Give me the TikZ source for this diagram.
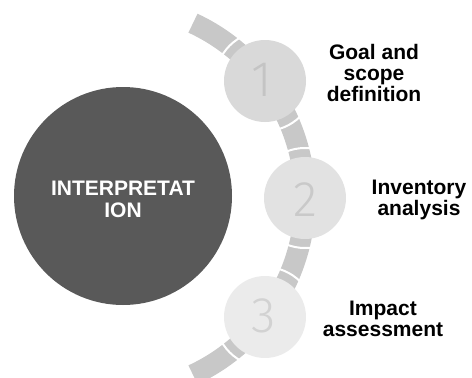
\documentclass[tikz,border=0pt]{standalone}
\usepackage{fontspec}
\setmainfont{Liberation Sans}
\newfontfamily\digitfont{Fira Sans Light}
\definecolor{darkc}{HTML}{595959}
\definecolor{bandc}{HTML}{C8C8C8}
\definecolor{cone}{HTML}{D9D9D9}
\definecolor{ctwo}{HTML}{E2E2E2}
\definecolor{cthree}{HTML}{EBEBEB}
\definecolor{done}{HTML}{C4C4C4}
\definecolor{dtwo}{HTML}{C9C9C9}
\definecolor{dthree}{HTML}{D2D2D2}
\tikzset{
  stepcircle/.style={circle, minimum size=82pt, inner sep=0pt},
  gapring/.style={draw=white, line width=2pt},
  digit/.style={font=\digitfont\fontsize{50}{50}\selectfont},
  label/.style={font=\bfseries\fontsize{21}{21}\selectfont, align=center, text=black},
}
\begin{document}
\begin{tikzpicture}[x=1pt,y=-1pt]
\useasboundingbox (0,0) rectangle (472,378);
\coordinate (C) at (111,199);
% band
\draw[bandc, line width=21pt] (C) ++(-65:194) arc[start angle=-65, end angle=65, radius=194];
% gap rings
\draw[gapring] (265,81) circle[radius=50];
\draw[gapring] (305,198) circle[radius=50];
\draw[gapring] (265,317) circle[radius=50];
% step circles
\node[stepcircle, fill=cone] (s1) at (265,81) {};
\node[stepcircle, fill=ctwo] (s2) at (305,198) {};
\node[stepcircle, fill=cthree] (s3) at (265,317) {};
\node[digit, text=done] (d1) at (262,80) {1};
\node[digit, text=dtwo] (d2) at (305,200) {2};
\node[digit, text=dthree] (d3) at (264,316) {3};
% main circle
\node[circle, fill=darkc, minimum size=218pt, inner sep=0pt] (main) at (123,196) {};
\node[label, text=white, font=\bfseries\fontsize{21}{22}\selectfont] (mt) at (123,199) {INTERPRETAT\\ION};
% labels
\node[label] (l1) at (374,73) {Goal and\\scope\\definition};
\node[label] (l2) at (419,200) {Inventory\\analysis};
\node[label] (l3) at (383,319) {Impact\\assessment};
\end{tikzpicture}
\end{document}
